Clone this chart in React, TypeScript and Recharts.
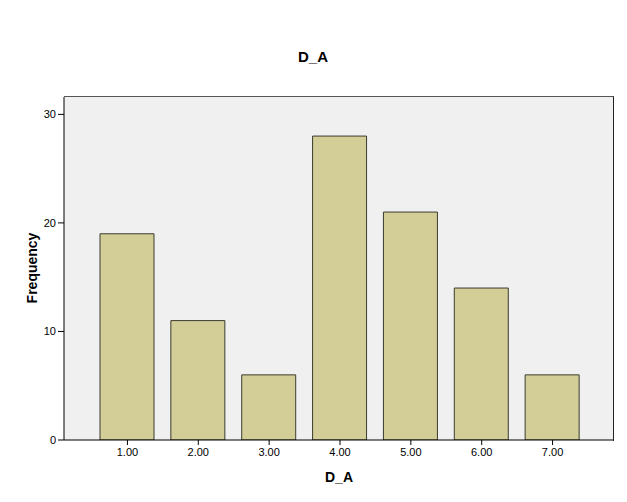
import { useEffect } from 'react';
import { Bar, BarChart, CartesianGrid, XAxis, YAxis } from 'recharts';

const CATEGORIES = ['1.00', '2.00', '3.00', '4.00', '5.00', '6.00', '7.00'];
const FREQUENCIES = [19, 11, 6, 28, 21, 14, 6];
const Y_TICKS = [0, 10, 20, 30];

const BAR_FILL = '#d3ce97';
const BAR_STROKE = '#3b3b2e';
const FONT = 'Arial, "Liberation Sans", sans-serif';

const data = CATEGORIES.map((label, i) => ({ label, count: FREQUENCIES[i] }));

export default function App() {
  useEffect(() => {
    document.body.style.margin = '0';
  }, []);

  const tickStyle = { fill: '#000', fontSize: 11, fontFamily: FONT };

  return (
    <div style={{ position: 'relative', width: 627, height: 502, background: '#fff', fontFamily: FONT }}>
      <div
        style={{
          position: 'absolute',
          left: 263,
          width: 100,
          top: 48,
          textAlign: 'center',
          fontSize: 15,
          fontWeight: 'bold',
          color: '#000',
        }}
      >
        D_A
      </div>
      <BarChart
        width={627}
        height={502}
        data={data}
        margin={{ top: 97, right: 13, bottom: 0, left: 0 }}
      >
        <CartesianGrid fill="#f0f0f0" horizontal={false} vertical={false} />
        <XAxis
          dataKey="label"
          height={62}
          padding={{ left: 28, right: 26 }}
          tickSize={5}
          tickMargin={3}
          tick={tickStyle}
          axisLine={{ stroke: '#000' }}
          tickLine={{ stroke: '#000' }}
        />
        <YAxis
          width={64}
          domain={[0, 31.6]}
          ticks={Y_TICKS}
          tickSize={6}
          tickMargin={2}
          tick={tickStyle}
          axisLine={{ stroke: '#000' }}
          tickLine={{ stroke: '#000' }}
          allowDataOverflow
        />
        <Bar
          dataKey="count"
          fill={BAR_FILL}
          stroke={BAR_STROKE}
          strokeWidth={1}
          barSize={54}
          isAnimationActive={false}
        />
      </BarChart>
      {/* frame: top and right edges of the plot */}
      <div
        style={{
          position: 'absolute',
          left: 64,
          top: 96,
          width: 549,
          height: 344,
          borderTop: '1px solid #555',
          borderRight: '1px solid #222',
          pointerEvents: 'none',
        }}
      />
      <div
        style={{
          position: 'absolute',
          left: 289,
          width: 100,
          top: 469,
          textAlign: 'center',
          fontSize: 14,
          fontWeight: 'bold',
          color: '#000',
        }}
      >
        D_A
      </div>
      <div
        style={{
          position: 'absolute',
          left: 32,
          top: 268,
          transform: 'translate(-50%, -50%) rotate(-90deg)',
          fontSize: 14,
          fontWeight: 'bold',
          color: '#000',
          whiteSpace: 'nowrap',
        }}
      >
        Frequency
      </div>
    </div>
  );
}
